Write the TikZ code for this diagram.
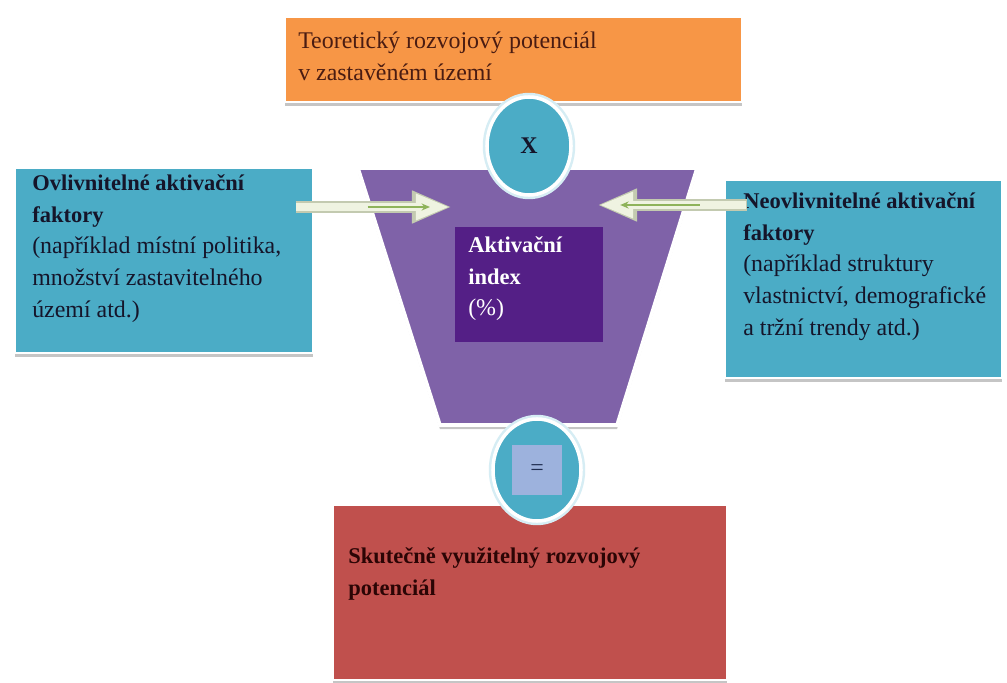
\documentclass[tikz,border=0pt]{standalone}
\usepackage{fontspec}
\setmainfont{Liberation Serif}
\usetikzlibrary{arrows.meta, shapes.geometric, shadows}

\definecolor{oranzova}{HTML}{F79646}
\definecolor{modra}{HTML}{4BACC6}
\definecolor{fialova}{HTML}{7F62A8}
\definecolor{tmavafialova}{HTML}{541F86}
\definecolor{cervena}{HTML}{C0504D}
\definecolor{svetlemodra}{HTML}{9DB2DD}
\definecolor{bleda}{HTML}{EFF3E1}
\definecolor{okraj}{HTML}{C3CAB0}
\definecolor{zelena}{HTML}{8EB35A}
\definecolor{zare}{HTML}{D6EDF4}
\definecolor{hneda}{HTML}{4A1C12}
\definecolor{tmava}{HTML}{15152A}
\definecolor{tmavacervena}{HTML}{2B0505}
\definecolor{tmavamodra}{HTML}{1F2D50}

\newcommand{\tucne}[1]{{\fontsize{16}{22.7}\selectfont\bfseries #1}}

\tikzset{
  stin/.style={drop shadow={shadow xshift=0pt, shadow yshift=-3pt, opacity=0.45}},
  krabice/.style={rectangle, draw=white, line width=2pt, stin},
  popis/.style={anchor=north west, inner sep=0pt, align=left, font=\fontsize{17}{22.7}\selectfont},
  kruh/.style={ellipse, fill=modra, draw=white, line width=2.5pt, preaction={draw=zare, line width=6pt}},
  sipka/.style={line width=0.3cm, okraj, -{Triangle[length=1cm, width=0.75cm]}},
  sipkaVnitrek/.style={line width=0.22cm, bleda, shorten >=1.5pt, -{Triangle[length=0.85cm, width=0.6cm]}},
  sipkaCara/.style={line width=1.2pt, zelena, -{Stealth[length=6pt, width=5pt]}}
}

\begin{document}
\begin{tikzpicture}[x=0.025cm, y=-0.025cm]
  \useasboundingbox[fill=white] (0,0) rectangle (1007,683);

  % Funnel (plain shape)
  \draw[fill=fialova, draw=white, line width=2.5pt, stin] (358,168) -- (697,168) -- (617,425) -- (440,425) -- cycle;

  % Top box
  \node[krabice, fill=oranzova, minimum width=11.425cm, minimum height=2.125cm] (teoreticky) at (513.5,59.5) {};
  \node[popis, text=hneda] (teoretickyText) at (298,32) {Teoretický rozvojový potenciál\\v zastavěném území};

  % X
  \node[kruh, minimum width=2.1cm, minimum height=2.45cm, font=\fontsize{17}{20}\selectfont\bfseries, text=tmava] (krat) at (529,146) {X};

  % Index in the middle
  \node[rectangle, fill=tmavafialova, minimum width=3.7cm, minimum height=2.875cm] (index) at (529,284.5) {};
  \node[popis, text=white] (indexText) at (468,236) {\tucne{Aktivační}\\\tucne{index}\\(\%)};

  % Left box
  \node[krabice, fill=modra, minimum width=7.45cm, minimum height=4.625cm] (ovlivnitelne) at (164,260.5) {};
  \node[popis, text=tmava] (ovlivnitelneText) at (32,174) {\tucne{Ovlivnitelné aktivační}\\\tucne{faktory}\\(například místní politika,\\množství zastavitelného\\území atd.)};

  % Right box
  \node[krabice, fill=modra, minimum width=6.925cm, minimum height=4.95cm] (neovlivnitelne) at (863.5,279) {};
  \node[popis, text=tmava] (neovlivnitelneText) at (743,192) {\tucne{Neovlivnitelné aktivační}\\\tucne{faktory}\\(například struktury\\vlastnictví, demografické\\a tržní trendy atd.)};

  % Bottom box
  \node[krabice, fill=cervena, minimum width=9.85cm, minimum height=4.375cm] (skutecny) at (530,592.5) {};
  \node[popis, text=tmavacervena] (skutecnyText) at (348,547) {\tucne{Skutečně využitelný rozvojový}\\\tucne{potenciál}};

  % =
  \node[kruh, minimum width=2.2cm, minimum height=2.55cm] (rovna) at (537,470) {};
  \node[fill=svetlemodra, minimum size=1.25cm, inner sep=0pt, text=tmavamodra, font=\fontsize{17}{20}\selectfont] (rovnaText) at (rovna) {=};

  % Arrows into the funnel
  \coordinate (vstupL) at (452,207);
  \coordinate (vstupP) at (597,205);
  \draw[sipka, shorten <=-0.47cm] (ovlivnitelne.east |- vstupL) -- (vstupL);
  \draw[sipkaVnitrek, shorten <=-0.45cm] (ovlivnitelne.east |- vstupL) -- (vstupL);
  \draw[sipkaCara, shorten <=1.33cm, shorten >=0.55cm] (ovlivnitelne.east |- vstupL) -- (vstupL);
  \draw[sipka, shorten <=-0.58cm] (neovlivnitelne.west |- vstupP) -- (vstupP);
  \draw[sipkaVnitrek, shorten <=-0.56cm] (neovlivnitelne.west |- vstupP) -- (vstupP);
  \draw[sipkaCara, shorten <=0.6cm, shorten >=0.58cm] (neovlivnitelne.west |- vstupP) -- (vstupP);
\end{tikzpicture}
\end{document}
